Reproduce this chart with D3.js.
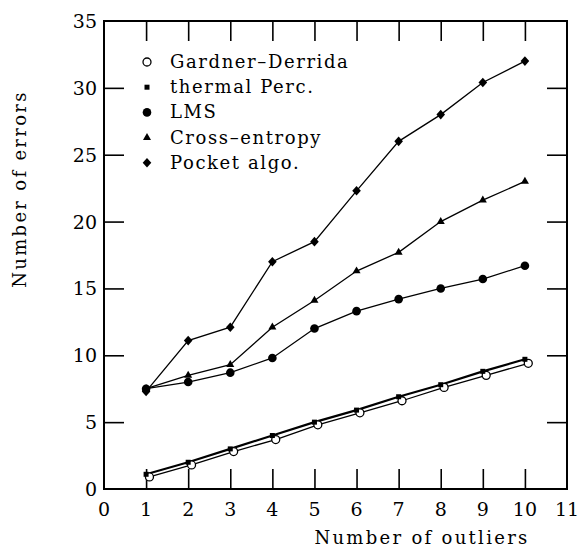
<!DOCTYPE html>
<html>
<head>
<meta charset="utf-8">
<script src="https://cdn.jsdelivr.net/npm/d3@7"></script>
<style>
  body { margin: 0; background: #fff; }
  svg { display: block; }
  text { font-family: "DejaVu Serif", serif; fill: #000; }
</style>
</head>
<body>
<script>
const outliers = [1, 2, 3, 4, 5, 6, 7, 8, 9, 10];
const gardner = [0.9, 1.8, 2.8, 3.7, 4.8, 5.7, 6.6, 7.6, 8.5, 9.4];
const thermal = [1.1, 2.0, 3.0, 4.0, 5.0, 5.9, 6.9, 7.8, 8.8, 9.7];
const lms = [7.5, 8.0, 8.7, 9.8, 12.0, 13.3, 14.2, 15.0, 15.7, 16.7];
const crossEntropy = [7.5, 8.5, 9.3, 12.1, 14.1, 16.3, 17.7, 20.0, 21.6, 23.0];
const pocket = [7.3, 11.1, 12.1, 17.0, 18.5, 22.3, 26.0, 28.0, 30.4, 32.0];
const xTicks = [0, 1, 2, 3, 4, 5, 6, 7, 8, 9, 10, 11];
const yTicks = [0, 5, 10, 15, 20, 25, 30, 35];

const series = [
  { name: "Gardner\u2013Derrida", values: gardner, marker: "open", dx: 0.08 },
  { name: "thermal Perc.", values: thermal, marker: "square", dx: 0 },
  { name: "LMS", values: lms, marker: "dot", dx: 0 },
  { name: "Cross\u2013entropy", values: crossEntropy, marker: "triangle", dx: 0 },
  { name: "Pocket algo.", values: pocket, marker: "diamond", dx: 0 }
];

const W = 579, H = 553;
const m = { left: 104, right: 567, top: 21, bottom: 489 };

const svg = d3.select("body").append("svg")
  .attr("width", W)
  .attr("height", H);

const x = d3.scaleLinear().domain([0, 11]).range([m.left, m.right]);
const y = d3.scaleLinear().domain([0, 35]).range([m.bottom, m.top]);

// frame
svg.append("rect")
  .attr("x", m.left).attr("y", m.top)
  .attr("width", m.right - m.left).attr("height", m.bottom - m.top)
  .attr("fill", "none").attr("stroke", "#000").attr("stroke-width", 2);

// ticks on all four sides (inward)
const tickLen = 20;
const innerX = xTicks.filter(d => d > 0 && d < 11);
const innerY = yTicks.filter(d => d > 0 && d < 35);

svg.append("g")
  .attr("transform", `translate(0,${m.bottom})`)
  .call(d3.axisTop(x).tickValues(innerX).tickSize(tickLen).tickFormat(""))
  .call(g => g.select(".domain").remove())
  .selectAll("line").attr("stroke-width", 1.6);

svg.append("g")
  .attr("transform", `translate(0,${m.top})`)
  .call(d3.axisBottom(x).tickValues(innerX).tickSize(tickLen).tickFormat(""))
  .call(g => g.select(".domain").remove())
  .selectAll("line").attr("stroke-width", 1.6);

svg.append("g")
  .attr("transform", `translate(${m.left},0)`)
  .call(d3.axisRight(y).tickValues(innerY).tickSize(tickLen).tickFormat(""))
  .call(g => g.select(".domain").remove())
  .selectAll("line").attr("stroke-width", 1.6);

svg.append("g")
  .attr("transform", `translate(${m.right},0)`)
  .call(d3.axisLeft(y).tickValues(innerY).tickSize(tickLen).tickFormat(""))
  .call(g => g.select(".domain").remove())
  .selectAll("line").attr("stroke-width", 1.6);

// tick labels
svg.append("g")
  .selectAll("text")
  .data(xTicks)
  .join("text")
  .attr("x", d => x(d))
  .attr("y", 516)
  .attr("text-anchor", "middle")
  .style("font-size", "19px")
  .text(d => d);

svg.append("g")
  .selectAll("text")
  .data(yTicks)
  .join("text")
  .attr("x", m.left - 7)
  .attr("y", d => y(d) + 7)
  .attr("text-anchor", "end")
  .style("font-size", "19px")
  .text(d => d);

// axis titles
svg.append("text")
  .attr("x", 422)
  .attr("y", 544)
  .attr("text-anchor", "middle")
  .style("font-size", "18px")
  .style("letter-spacing", "2.3px")
  .text("Number of outliers");

svg.append("text")
  .attr("transform", "translate(26,189) rotate(-90)")
  .attr("text-anchor", "middle")
  .style("font-size", "18px")
  .style("letter-spacing", "2.3px")
  .text("Number of errors");

// markers
const drawMarker = (g, type) => {
  if (type === "open") {
    g.append("circle").attr("r", 4).attr("fill", "#fff").attr("stroke", "#000").attr("stroke-width", 1.3);
  } else if (type === "square") {
    g.append("rect").attr("x", -2.5).attr("y", -2.5).attr("width", 5).attr("height", 5).attr("fill", "#000");
  } else if (type === "dot") {
    g.append("circle").attr("r", 4.3).attr("fill", "#000");
  } else if (type === "triangle") {
    g.append("path").attr("d", d3.symbol(d3.symbolTriangle, 28)()).attr("fill", "#000");
  } else if (type === "diamond") {
    g.append("path").attr("d", "M0,-4.8L4.3,0L0,4.8L-4.3,0Z").attr("fill", "#000");
  }
};

const line = d3.line()
  .x(d => x(d[0]))
  .y(d => y(d[1]));

series.forEach(s => {
  const pts = outliers.map((o, i) => [o + s.dx, s.values[i]]);
  svg.append("path")
    .datum(pts)
    .attr("d", line)
    .attr("fill", "none")
    .attr("stroke", "#000")
    .attr("stroke-width", s.marker === "square" ? 2.2 : 1.3);
});

series.forEach(s => {
  const pts = outliers.map((o, i) => [o + s.dx, s.values[i]]);
  pts.forEach(p => {
    const g = svg.append("g").attr("transform", `translate(${x(p[0])},${y(p[1])})`);
    drawMarker(g, s.marker);
  });
});

// legend
const legend = svg.append("g");
series.forEach((s, i) => {
  const yy = 62 + i * 25.2;
  const g = legend.append("g").attr("transform", `translate(147,${yy})`);
  drawMarker(g, s.marker);
  legend.append("text")
    .attr("x", 170)
    .attr("y", yy + 6)
    .style("font-size", "18px")
    .style("letter-spacing", "1.6px")
    .text(s.name);
});
</script>
</body>
</html>
